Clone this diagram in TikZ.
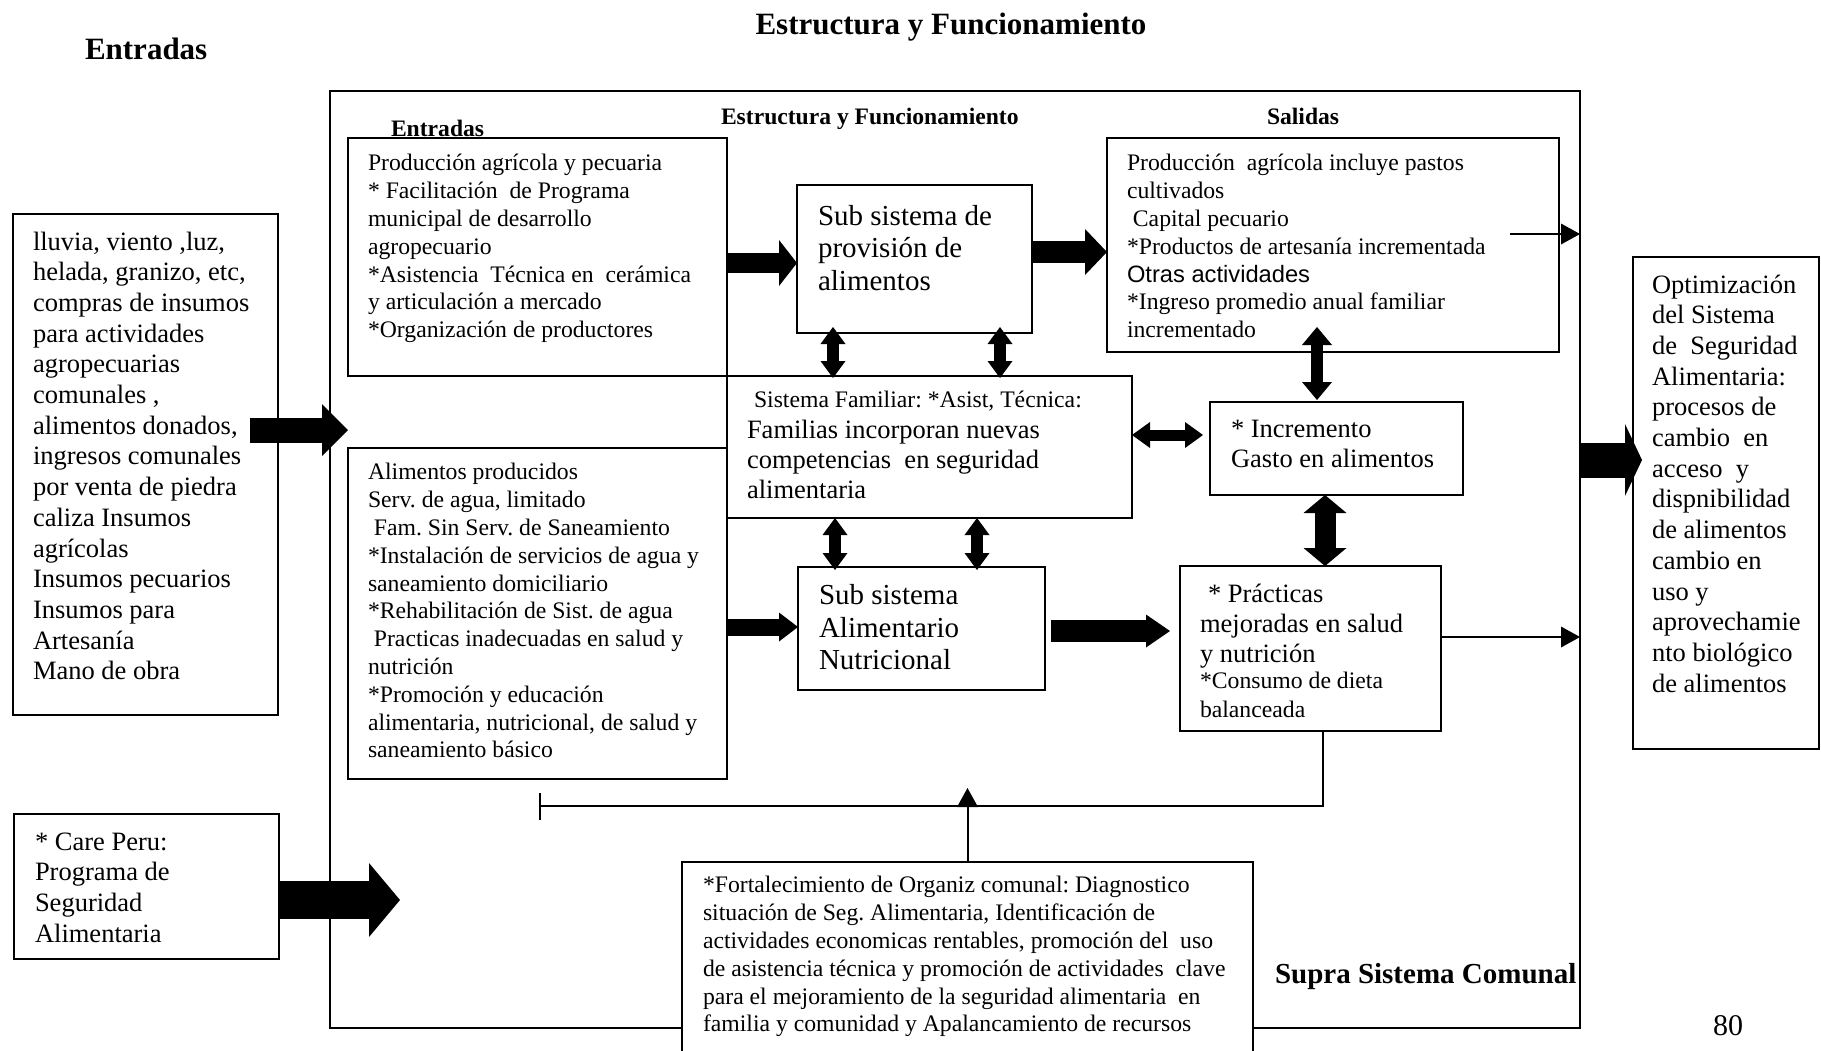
\documentclass[tikz,border=0pt]{standalone}
\usepackage{fontspec}
\setmainfont{Liberation Serif}
\newfontfamily\arialf{Liberation Sans}
\usetikzlibrary{arrows.meta,calc}
\frenchspacing
\begin{document}
\begin{tikzpicture}[x=1pt,y=-1pt,
  box/.style={draw, line width=1.8pt, fill=white, inner sep=0pt, outer sep=0pt, anchor=north west},
  txt/.style={inner sep=0pt, outer sep=0pt, anchor=north west, align=left},
  ttl/.style={inner sep=0pt, outer sep=0pt, anchor=base west},
  fs/.style={font=\fontsize{23.7}{27.8}\selectfont},
  fm/.style={font=\fontsize{26.5}{30.7}\selectfont},
  fl/.style={font=\fontsize{29}{32.5}\selectfont},
  barrow/.style n args={3}{line width=#1, -{Triangle[width=#2, length=#3, line width=0pt]}},
  dbarrow/.style n args={3}{line width=#1, {Triangle[width=#2, length=#3, line width=0pt]}-{Triangle[width=#2, length=#3, line width=0pt]}},
  tline/.style={line width=2pt},
  tarrow/.style={line width=2pt, -{Triangle[width=21pt, length=19pt, line width=0pt]}}
]
\useasboundingbox (0,0) rectangle (1821,1050);
\clip (0,0) rectangle (1821,1050);

% titles
\node[ttl, font=\fontsize{31}{36}\selectfont\bfseries] (t1) at (85,59) {Entradas};
\node[inner sep=0pt, anchor=base, font=\fontsize{31}{36}\selectfont\bfseries] (t2) at (951,34) {Estructura y Funcionamiento};

% outer supra system
\node[box, fill=none, minimum width=1250pt, minimum height=937pt] (O) at (330,91) {};

\node[ttl, font=\fontsize{23.6}{28}\selectfont\bfseries] (t3) at (391,136) {Entradas};
\node[ttl, font=\fontsize{23.6}{28}\selectfont\bfseries] (t4) at (721,124) {Estructura y Funcionamiento};
\node[ttl, font=\fontsize{23.6}{28}\selectfont\bfseries] (t5) at (1267,124) {Salidas};

% boxes
\node[box, minimum width=265pt, minimum height=501pt] (L1) at (13,214) {};
\node[box, minimum width=265pt, minimum height=145pt] (L2) at (14,814) {};
\node[box, minimum width=379pt, minimum height=238pt] (A) at (348,138) {};
\node[box, minimum width=235pt, minimum height=148pt] (B) at (797,185) {};
\node[box, minimum width=452pt, minimum height=214pt] (C) at (1107,138) {};
\node[box, minimum width=405pt, minimum height=142pt] (D) at (727,376) {};
\node[box, minimum width=379pt, minimum height=331pt] (E) at (348,448) {};
\node[box, minimum width=247pt, minimum height=123pt] (F) at (798,567) {};
\node[box, minimum width=253pt, minimum height=93pt] (G) at (1210,402) {};
\node[box, minimum width=261pt, minimum height=165pt] (H) at (1180,566) {};
\node[box, minimum width=186pt, minimum height=492pt] (I) at (1633,257) {};
\node[box, minimum width=571pt, minimum height=200pt] (J) at (682,862) {};

% texts
\node[txt, fm] (L1t) at (33,228.5) {\strut lluvia, viento ,luz,\\
helada, granizo, etc,\\
compras de insumos\\
para actividades\\
agropecuarias\\
comunales ,\\
alimentos donados,\\
ingresos comunales\\
por venta de piedra\\
caliza Insumos\\
agrícolas\\
Insumos pecuarios\\
Insumos para\\
Artesanía\\
Mano de obra};

\node[txt, fm] (L2t) at (35,828.5) {\strut * Care Peru:\\
Programa de\\
Seguridad\\
Alimentaria};

\node[txt, fs] (At) at (368,151.5) {\strut Producción agrícola y pecuaria\\
{}* Facilitación\ \ de Programa\\
municipal de desarrollo\\
agropecuario\\
{}*Asistencia\ \ Técnica en\ \ cerámica\\
y articulación a mercado\\
{}*Organización de productores};

\node[txt, fl] (Bt) at (818,202.3) {\strut Sub sistema de\\
provisión de\\
alimentos};

\node[txt, fs] (Ct) at (1127,151.5) {\strut Producción\ \ agrícola incluye pastos\\
cultivados\\
\hspace*{0.25em}Capital pecuario\\
{}*Productos de artesanía incrementada\\
{\arialf Otras actividades}\\
{}*Ingreso promedio anual familiar\\
incrementado};

\node[txt, fs] (D1t) at (754,388.5) {\strut Sistema Familiar: *Asist, Técnica:};
\node[txt, font=\fontsize{26.5}{30}\selectfont] (D2t) at (747,417) {\strut Familias incorporan nuevas\\
competencias\ \ en seguridad\\
alimentaria};

\node[txt, fs] (Et) at (368,460.5) {\strut Alimentos producidos\\
Serv. de agua, limitado\\
\hspace*{0.25em}Fam. Sin Serv. de Saneamiento\\
{}*Instalación de servicios de agua y\\
saneamiento domiciliario\\
{}*Rehabilitación de Sist. de agua\\
\hspace*{0.25em}Practicas inadecuadas en salud y\\
nutrición\\
{}*Promoción y educación\\
alimentaria, nutricional, de salud y\\
saneamiento básico};

\node[txt, fl] (Ft) at (819,582) {\strut Sub sistema\\
Alimentario\\
Nutricional};

\node[txt, font=\fontsize{26.5}{30}\selectfont] (Gt) at (1231,416) {\strut * Incremento\\
Gasto en alimentos};

\node[txt, font=\fontsize{26.5}{30}\selectfont] (H1t) at (1200,581) {\strut\hspace*{8pt}* Prácticas\\
mejoradas en salud\\
y nutrición};
\node[txt, font=\fontsize{23.7}{29}\selectfont] (H2t) at (1200,667.7) {\strut *Consumo de dieta\\
balanceada};

\node[txt, fm] (It) at (1652,271.5) {\strut Optimización\\
del Sistema\\
de\ \ Seguridad\\
Alimentaria:\\
procesos de\\
cambio\ \ en\\
acceso\ \ y\\
dispnibilidad\\
de alimentos\\
cambio en\\
uso y\\
aprovechamie\\
nto biológico\\
de alimentos};

\node[txt, fs] (Jt) at (703,873.5) {\strut *Fortalecimiento de Organiz comunal: Diagnostico\\
situación de Seg. Alimentaria, Identificación de\\
actividades economicas rentables, promoción del\ \ uso\\
de asistencia técnica y promoción de actividades\ \ clave\\
para el mejoramiento de la seguridad alimentaria\ \ en\\
familia y comunidad y Apalancamiento de recursos};

\node[ttl, font=\fontsize{29}{34}\selectfont\bfseries] (t6) at (1275,983) {Supra Sistema Comunal};
\node[ttl, font=\fontsize{30}{34}\selectfont] (t7) at (1713,1035) {80};

% block arrows
\coordinate (l1s) at ($(L1.east |- 0,430)+(-28,0)$);
\draw[barrow={25pt}{52pt}{26pt}] (l1s) -- (l1s -| A.west);
\coordinate (l2t) at (400,900);
\draw[barrow={38pt}{74pt}{31pt}] (L2.east |- l2t) -- (l2t);
\draw[barrow={20pt}{46pt}{18pt}] (A.east |- 0,263) -- (B.west |- 0,263);
\draw[barrow={22pt}{46pt}{22pt}] (B.east |- 0,252) -- (C.west |- 0,252);
\draw[barrow={17pt}{29pt}{19pt}] (E.east |- 0,627) -- (F.west |- 0,627);
\draw[barrow={22pt}{33pt}{24pt}] ($(F.east |- 0,631)+(6,0)$) -- ($(H.west |- 0,631)+(-10,0)$);
\draw[barrow={35pt}{72pt}{17pt}] (O.east |- 0,460) -- ($(I.west |- 0,460)+(9,0)$);

% double arrows
\draw[dbarrow={11pt}{26pt}{18pt}] (D.east |- 0,435) -- ($(G.west |- 0,435)+(-7,0)$);
\draw[dbarrow={12pt}{25pt}{17pt}] ($(B.south -| 833,0)+(0,-6)$) -- ($(D.north -| 833,0)+(0,2)$);
\draw[dbarrow={12pt}{25pt}{17pt}] ($(B.south -| 1000,0)+(0,-6)$) -- ($(D.north -| 1000,0)+(0,2)$);
\draw[dbarrow={12pt}{25pt}{17pt}] (D.south -| 835,0) -- ($(F.north -| 835,0)+(0,3)$);
\draw[dbarrow={12pt}{25pt}{17pt}] (D.south -| 977,0) -- ($(F.north -| 977,0)+(0,3)$);
\draw[dbarrow={12pt}{30pt}{18pt}] ($(C.south -| 1317,0)+(0,-25)$) -- ($(G.north -| 1317,0)+(0,-2)$);
\draw[dbarrow={21pt}{43pt}{18pt}] (G.south -| 1325,0) -- (H.north -| 1325,0);

% thin connectors
\coordinate (c1) at ($(C.east)+(-49,-11)$);
\draw[tarrow] (c1) -- (c1 -| O.east);
\draw[tarrow] (H.east |- 0,637) -- (O.east |- 0,637);
\coordinate (h1) at ($(H.south)+(12,0)$);
\coordinate (fb) at (539,806);
\draw[tline, -{Bar[width=27pt]}] (h1) |- (fb);
\draw[tarrow] (J.north) -- (J.north |- 0,788);
\end{tikzpicture}
\end{document}
